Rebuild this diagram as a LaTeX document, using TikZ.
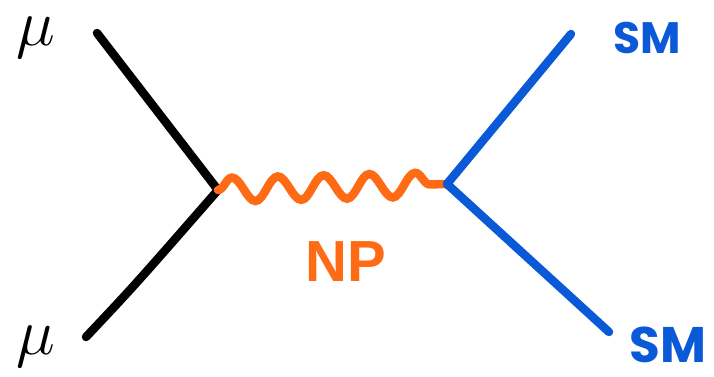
\documentclass[tikz,border=0pt]{standalone}
\usepackage{graphicx}
\usepackage{fontspec}
\usetikzlibrary{decorations.pathmorphing}
\newfontfamily\labelfont{Liberation Sans}
\newfontfamily\handfont{Poppins}
\definecolor{npOrange}{HTML}{FF6A14}
\definecolor{smBlue}{HTML}{0A5AD8}
\newcommand{\bigmu}{\scalebox{3.8}{\LARGE$\mu$}}
\begin{document}
\begin{tikzpicture}[x=1pt,y=-1pt,
  fermion/.style={line width=8.5pt,line cap=round},
  boson/.style={line width=8.5pt,line cap=round,color=npOrange,
    decorate,decoration={snake,segment length=45.8pt,amplitude=12pt}},
  mulabel/.style={inner sep=0pt},
  smlabel/.style={inner sep=0pt,text=smBlue},
]
\useasboundingbox (0,0) rectangle (714,377);
% vertices and external ends
\coordinate (vl) at (218,190);
\coordinate (vr) at (447,184);
\coordinate (a1) at (97,33);
\coordinate (a2) at (86,337);
\coordinate (b1) at (571,34);
\coordinate (b2) at (609,332);
% incoming muons
\draw[fermion,black] (a1) -- (vl);
\draw[fermion,black] (a2) .. controls (135,285) .. (vl);
% new-physics mediator
\draw[boson] (vl) -- (vr);
% outgoing SM states
\draw[fermion,smBlue] (vr) -- (b1);
\draw[fermion,smBlue] (vr) -- (b2);
% labels
\node[mulabel] (mu1) at (36,38) {\bigmu};
\node[mulabel] (mu2) at (36,347) {\bigmu};
\node[inner sep=0pt,text=npOrange,font=\labelfont\bfseries\fontsize{58}{58}\selectfont] (np) at (346,262) {NP};
\node[smlabel,font=\handfont\bfseries\fontsize{44}{44}\selectfont] (sm1) at (647,38) {SM};
\node[smlabel,font=\handfont\bfseries\fontsize{50}{50}\selectfont] (sm2) at (668,345) {SM};
\end{tikzpicture}
\end{document}
